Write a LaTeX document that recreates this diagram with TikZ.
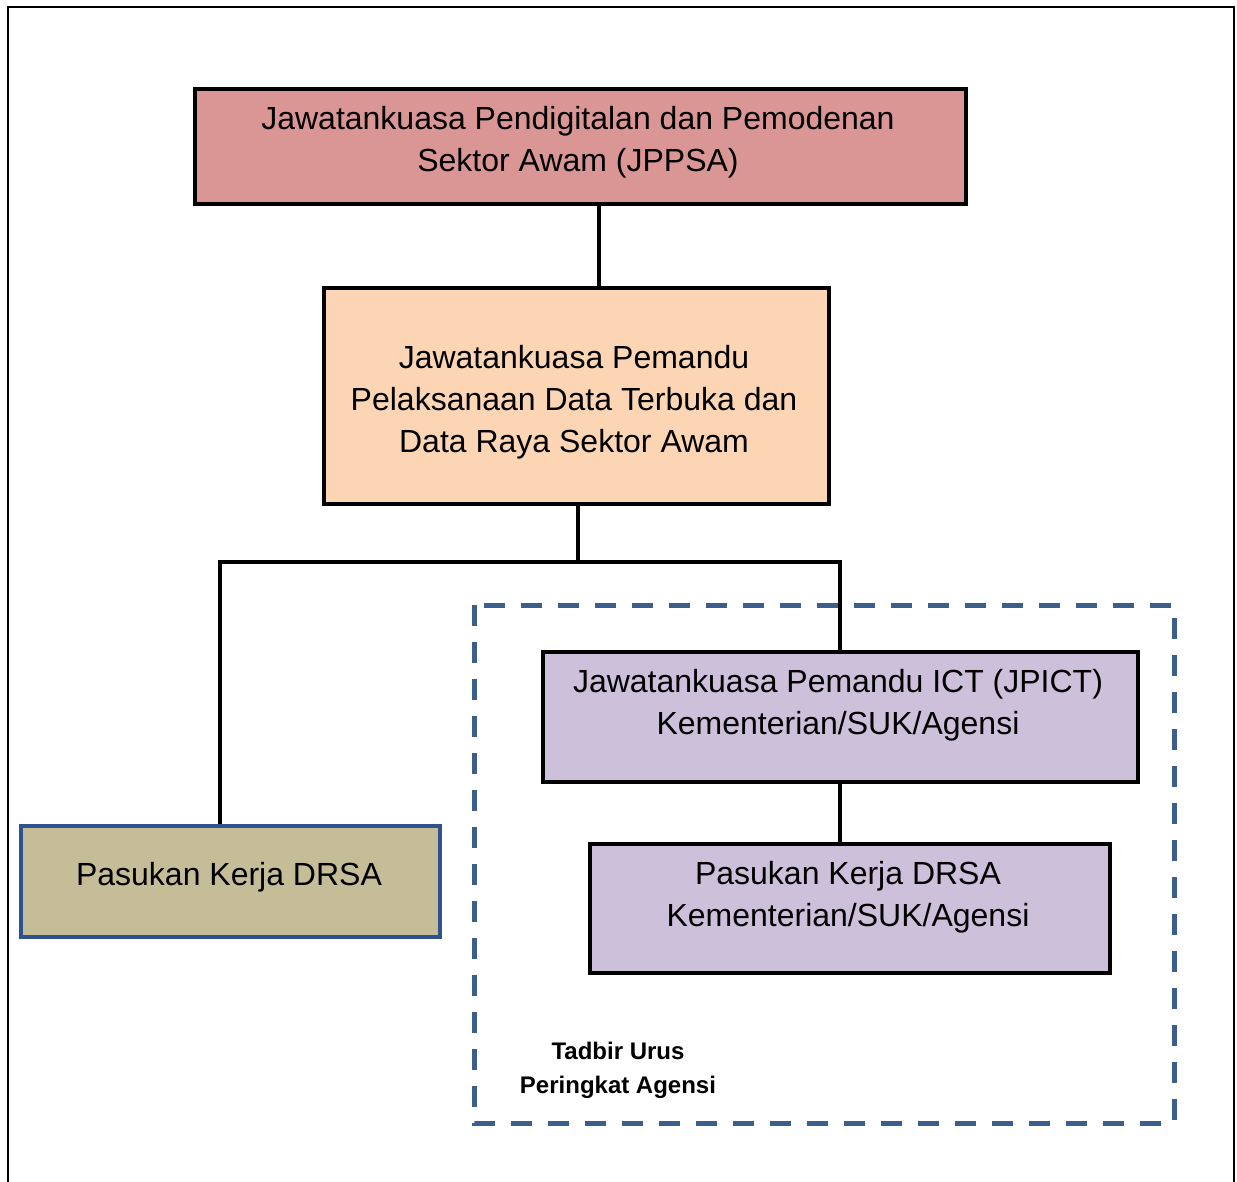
\documentclass[tikz,border=0pt]{standalone}
\usepackage{fontspec}
\setmainfont{Liberation Sans}
\begin{document}
\begin{tikzpicture}[x=1pt,y=-1pt,
  box/.style={draw=black,line width=3.5pt,inner sep=0pt,anchor=north west},
  boxtext/.style={align=center,inner sep=0pt,font=\fontsize{32}{42}\selectfont},
  link/.style={line width=4.5pt,draw=black},
  groupline/.style={draw=groupblue,line width=5pt,dash pattern=on 21pt off 16pt}
]
\definecolor{jppsa}{HTML}{DA9694}
\definecolor{pemandu}{HTML}{FCD5B4}
\definecolor{drsa}{HTML}{C4BD97}
\definecolor{agensi}{HTML}{CCC0DA}
\definecolor{groupblue}{HTML}{3B5E8C}
\definecolor{drsaedge}{HTML}{2F528F}

\useasboundingbox (0,0) rectangle (1237,1181);

% outer frame, open at the bottom edge
\draw[line width=2pt] (8,1200) -- (8,7) -- (1234,7) -- (1234,1200);

% agency-level group frame
\draw[groupline] (474,605) rectangle (1174,1123);

% boxes
\node[box,fill=jppsa,minimum width=771pt,minimum height=115pt] (jppsa) at (193,87) {};
\node[box,fill=pemandu,minimum width=505pt,minimum height=216pt] (pemandu) at (322,286) {};
\node[box,fill=drsa,draw=drsaedge,minimum width=419pt,minimum height=111pt] (drsa) at (19,824) {};
\node[box,fill=agensi,minimum width=595pt,minimum height=130pt] (jpict) at (541,650) {};
\node[box,fill=agensi,minimum width=520pt,minimum height=129pt] (drsak) at (588,842) {};

% labels
\node[boxtext] (tjppsa) at (578,142) {Jawatankuasa Pendigitalan dan Pemodenan\\Sektor Awam (JPPSA)};
\node[boxtext] (tpemandu) at (574,402) {Jawatankuasa Pemandu\\Pelaksanaan Data Terbuka dan\\Data Raya Sektor Awam};
\node[boxtext] (tdrsa) at (229,877) {Pasukan Kerja DRSA};
\node[boxtext] (tjpict) at (838,705) {Jawatankuasa Pemandu ICT (JPICT)\\Kementerian/SUK/Agensi};
\node[boxtext] (tdrsak) at (848,897) {Pasukan Kerja DRSA\\Kementerian/SUK/Agensi};
\node[align=center,inner sep=0pt,font=\fontsize{24}{34}\selectfont\bfseries] (tgroup) at (618,1070) {Tadbir Urus\\Peringkat Agensi};

% connectors
\coordinate (split) at (578,562);
\draw[link] (jppsa.south -| 599,0) -- (pemandu.north -| 599,0);
\draw[link] (pemandu.south -| split) -- (split);
\draw[link] (drsa.north -| 220,0) |- (split) -| (jpict.north -| 840,0);
\draw[link] (jpict.south -| 840,0) -- (drsak.north -| 840,0);
\end{tikzpicture}
\end{document}
